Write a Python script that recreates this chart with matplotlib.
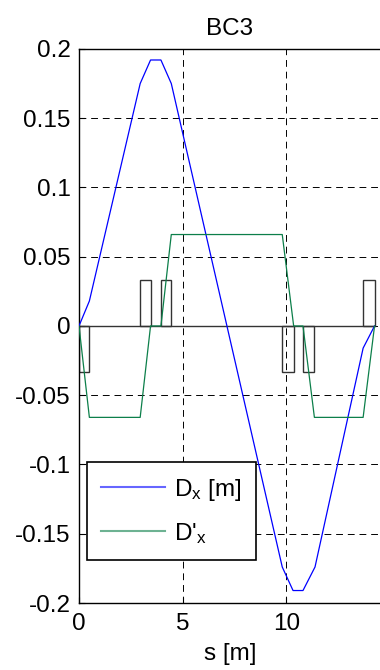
import matplotlib
matplotlib.use("Agg")
import matplotlib.pyplot as plt
from matplotlib.patches import Rectangle

plt.rcParams["font.family"] = ["Liberation Sans", "DejaVu Sans"]
plt.rcParams["mathtext.default"] = "regular"
plt.rcParams["mathtext.fontset"] = "custom"
plt.rcParams["mathtext.rm"] = "Liberation Sans"

# Dispersion along the BC3 chicane
s_dx = [0.0, 0.5, 2.95, 3.45, 3.95, 4.45, 9.8, 10.32, 10.8, 11.38, 13.7, 14.25]
dx = [0.0, 0.018, 0.175, 0.192, 0.192, 0.175, -0.174, -0.191, -0.191, -0.174, -0.016, 0.0]

s_dpx = [0.0, 0.5, 2.95, 3.45, 3.95, 4.45, 9.8, 10.35, 10.8, 11.35, 13.7, 14.25]
dpx = [0.0, -0.066, -0.066, 0.0, 0.0, 0.066, 0.066, 0.0, 0.0, -0.066, -0.066, 0.0]

# Dipole magnets: start, end, bend sign
mag_start = [0.0, 2.95, 3.95, 9.8, 10.8, 13.7]
mag_end = [0.5, 3.45, 4.45, 10.35, 11.35, 14.25]
mag_sign = [-1, 1, 1, -1, -1, 1]
mag_height = 0.033

xticks = [0, 5, 10]
yticks = [-0.2, -0.15, -0.1, -0.05, 0, 0.05, 0.1, 0.15, 0.2]
ytick_labels = ["-0.2", "-0.15", "-0.1", "-0.05", "0", "0.05", "0.1", "0.15", "0.2"]

fig = plt.figure(figsize=(3.8, 6.7), dpi=100)
ax = fig.add_axes([79 / 380, 0.1, 1 - 79 / 380 + 0.002, 0.827])

# lattice baseline and magnet boxes
ax.plot([mag_start[0], mag_end[-1]], [0, 0], color="#333333", lw=1.0, zorder=2)
for a, b, sg in zip(mag_start, mag_end, mag_sign):
    ax.add_patch(Rectangle((a, 0), b - a, sg * mag_height, fill=False,
                           edgecolor="#333333", lw=1.0, zorder=2))

l1, = ax.plot(s_dx, dx, color="#0000ff", lw=0.9, zorder=3)
l2, = ax.plot(s_dpx, dpx, color="#0c7f4a", lw=0.9, zorder=3)

ax.set_xlim(0, 14.55)
ax.set_ylim(-0.2, 0.2)
ax.set_xticks(xticks)
ax.set_xticklabels([str(t) for t in xticks])
ax.set_yticks(yticks)
ax.set_yticklabels(ytick_labels)
ax.tick_params(direction="in", length=4, width=0.8, labelsize=17.5, pad=6,
               top=False, right=False)
ax.tick_params(axis="x", pad=7)
ax.grid(True, color="black", linestyle=(0, (7, 5)), linewidth=0.7)
ax.set_axisbelow(True)
for side in ("left", "bottom", "top"):
    ax.spines[side].set_linewidth(1.0)
ax.spines["right"].set_visible(False)

ax.set_title("BC3", fontsize=17.5, pad=10)
ax.set_xlabel("s [m]", fontsize=17.5, labelpad=6)

leg = ax.legend([l1, l2], [r"D$_{x}$ [m]", r"D'$_{x}$"],
                loc="lower left", bbox_to_anchor=(0.026, 0.077),
                fontsize=17.5, frameon=True, fancybox=False, framealpha=1,
                edgecolor="black", handlelength=2.6, handletextpad=0.4,
                borderpad=0.6, labelspacing=0.75, borderaxespad=0)
leg.get_frame().set_linewidth(1.2)
for h in leg.get_lines():
    h.set_alpha(0.6)
    h.set_linewidth(1.5)

fig.savefig("out.png", dpi=100)
